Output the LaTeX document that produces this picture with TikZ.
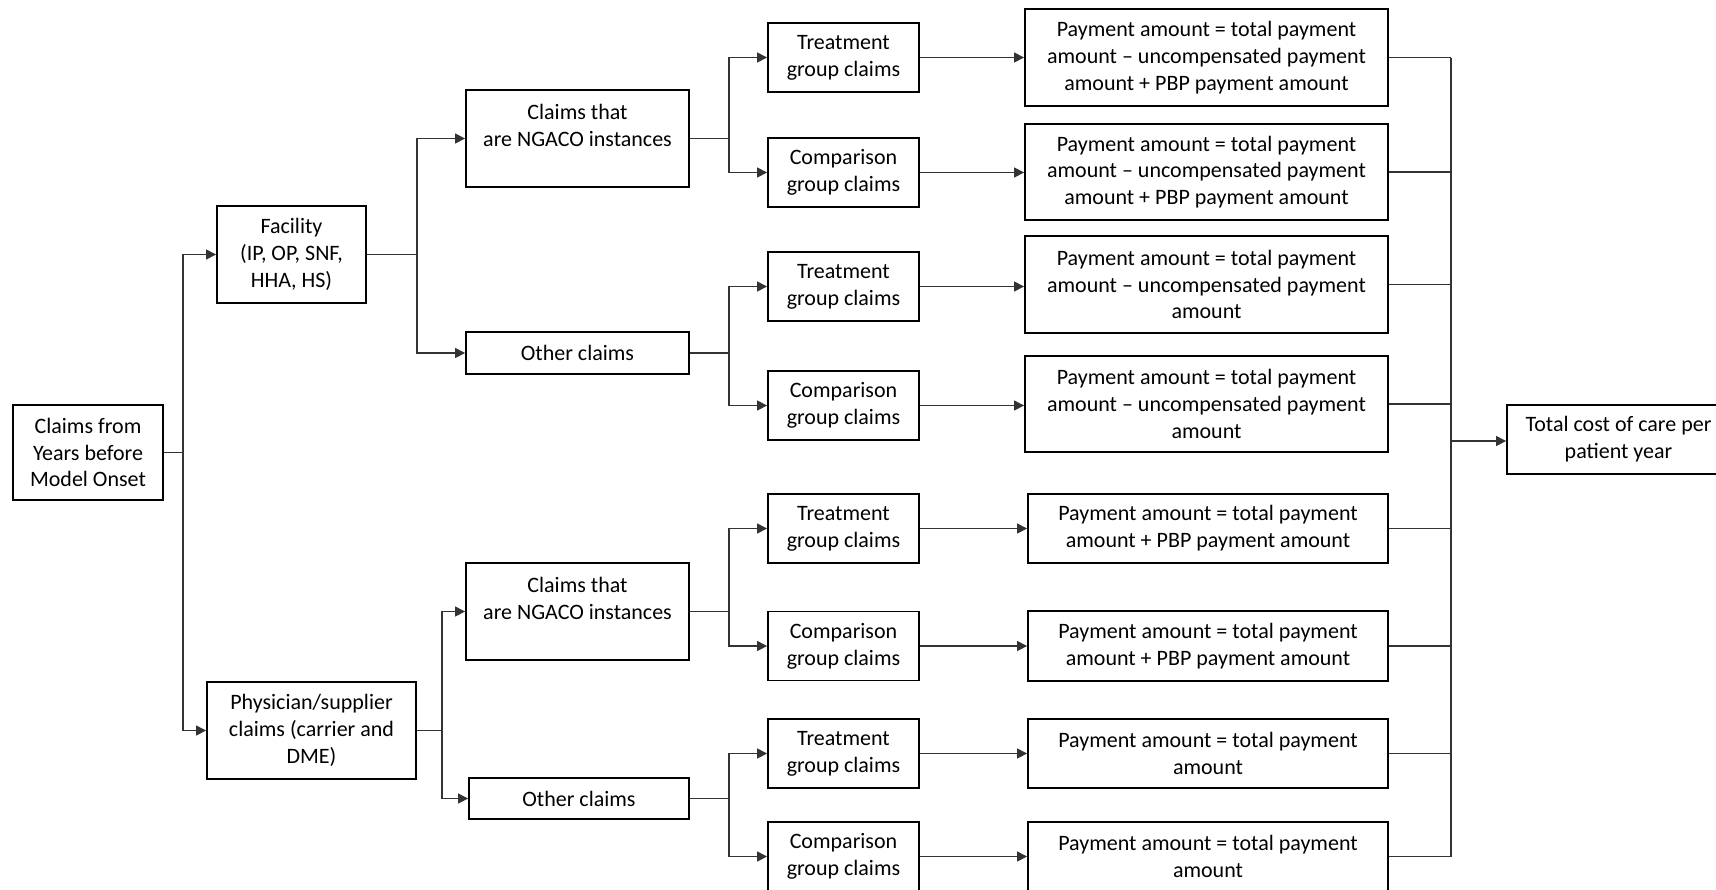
\documentclass[tikz,border=0pt]{standalone}
\usepackage{fontspec}
\setmainfont{Carlito}
\usetikzlibrary{arrows.meta}
\tikzset{
  box/.style 2 args={draw=black, line width=0.9pt, align=center, inner sep=0pt,
    minimum width=#1*0.5pt, minimum height=#2*0.5pt,
    font=\fontsize{11}{13.4}\selectfont},
  conn/.style={draw=black!80, line width=0.55pt},
  arr/.style={conn, -{Triangle[length=5pt,width=5pt]}}
}
\begin{document}
\begin{tikzpicture}[x=0.5pt, y=-0.5pt]
\useasboundingbox (0,0) rectangle (1716,889);
\clip (0,0) rectangle (1716,889);

% source and first split
\node[box={150}{95}] (root) at (88,452.5) {Claims from\\Years before\\Model Onset};
\node[box={149}{97}] (fac) at (291.5,254.5) {Facility\\(IP, OP, SNF,\\HHA, HS)};
\node[box={209}{97}] (phys) at (311.5,730.5) {Physician/supplier\\claims (carrier and\\DME)};

% NGACO instance split (text sits in the upper two of three lines)
\node[box={223}{97}] (ng1) at (577.5,138.5) {Claims that\\are NGACO instances\\\mbox{}};
\node[box={223}{42}] (oth1) at (577.5,353) {Other claims};
\node[box={223}{97}] (ng2) at (577.5,611.5) {Claims that\\are NGACO instances\\\mbox{}};
\node[box={220}{41}] (oth2) at (579,798.5) {Other claims};

% treatment / comparison groups
\node[box={151}{69}] (t1) at (843.5,57.5) {Treatment\\group claims};
\node[box={151}{69}] (c1) at (843.5,172.5) {Comparison\\group claims};
\node[box={151}{69}] (t2) at (843.5,286.5) {Treatment\\group claims};
\node[box={151}{69}] (c2) at (843.5,405.5) {Comparison\\group claims};
\node[box={151}{69}] (t3) at (843.5,528.5) {Treatment\\group claims};
\node[box={151}{69}] (c3) at (843.5,646) {Comparison\\group claims};
\node[box={151}{69}] (t4) at (843.5,753.5) {Treatment\\group claims};
\node[box={151}{69}] (c4) at (843.5,856.5) {Comparison\\group claims};

% payment formulas
\node[box={363}{97}] (p1) at (1206.5,57.5) {Payment amount = total payment\\amount -- uncompensated payment\\amount + PBP payment amount};
\node[box={363}{96}] (p2) at (1206.5,172) {Payment amount = total payment\\amount -- uncompensated payment\\amount + PBP payment amount};
\node[box={363}{97}] (p3) at (1206.5,284.5) {Payment amount = total payment\\amount -- uncompensated payment\\amount};
\node[box={363}{96}] (p4) at (1206.5,404) {Payment amount = total payment\\amount -- uncompensated payment\\amount};
\node[box={360}{69}] (p5) at (1208,528.5) {Payment amount = total payment\\amount + PBP payment amount};
\node[box={360}{70}] (p6) at (1208,646) {Payment amount = total payment\\amount + PBP payment amount};
\node[box={360}{69}] (p7) at (1208,753.5) {Payment amount = total payment\\amount};
\node[box={360}{69}] (p8) at (1208,856.5) {Payment amount = total payment\\amount};

% result
\node[box={223}{69}] (tot) at (1618.5,439.5) {Total cost of care per\\patient year};

% branching points
\coordinate (jr) at (183,452.5);
\coordinate (jf) at (417,254.5);
\coordinate (jp) at (442,730.5);
\coordinate (j1) at (729,138.5);
\coordinate (j2) at (729,353);
\coordinate (j3) at (729,611.5);
\coordinate (j4) at (729,798.5);
\coordinate (jc) at (1451,441);

\draw[conn] (root.east) -- (jr);
\draw[arr] (jr) |- (fac.west);
\draw[arr] (jr) |- (phys.west);

\draw[conn] (fac.east) -- (jf);
\draw[arr] (jf) |- (ng1.west);
\draw[arr] (jf) |- (oth1.west);

\draw[conn] (phys.east) -- (jp);
\draw[arr] (jp) |- (ng2.west);
\draw[arr] (jp) |- (oth2.west);

\draw[conn] (ng1.east) -- (j1);
\draw[arr] (j1) |- (t1.west);
\draw[arr] (j1) |- (c1.west);
\draw[conn] (oth1.east) -- (j2);
\draw[arr] (j2) |- (t2.west);
\draw[arr] (j2) |- (c2.west);
\draw[conn] (ng2.east) -- (j3);
\draw[arr] (j3) |- (t3.west);
\draw[arr] (j3) |- (c3.west);
\draw[conn] (oth2.east) -- (j4);
\draw[arr] (j4) |- (t4.west);
\draw[arr] (j4) |- (c4.west);

% group claims to payment formulas
\foreach \g/\p in {t1/p1, c1/p2, t2/p3, c2/p4, t3/p5, c3/p6, t4/p7, c4/p8}
  \draw[arr] (\g.east) -- (\g.east -| \p.west);

% collector into the total
\foreach \p in {p1,p2,p3,p4,p5,p6,p7,p8}
  \draw[conn] (\p.east) -- (\p.east -| jc);
\draw[conn] (p1.east -| jc) -- (p8.east -| jc);
\draw[arr] (jc) -- (tot.west |- jc);
\end{tikzpicture}
\end{document}
